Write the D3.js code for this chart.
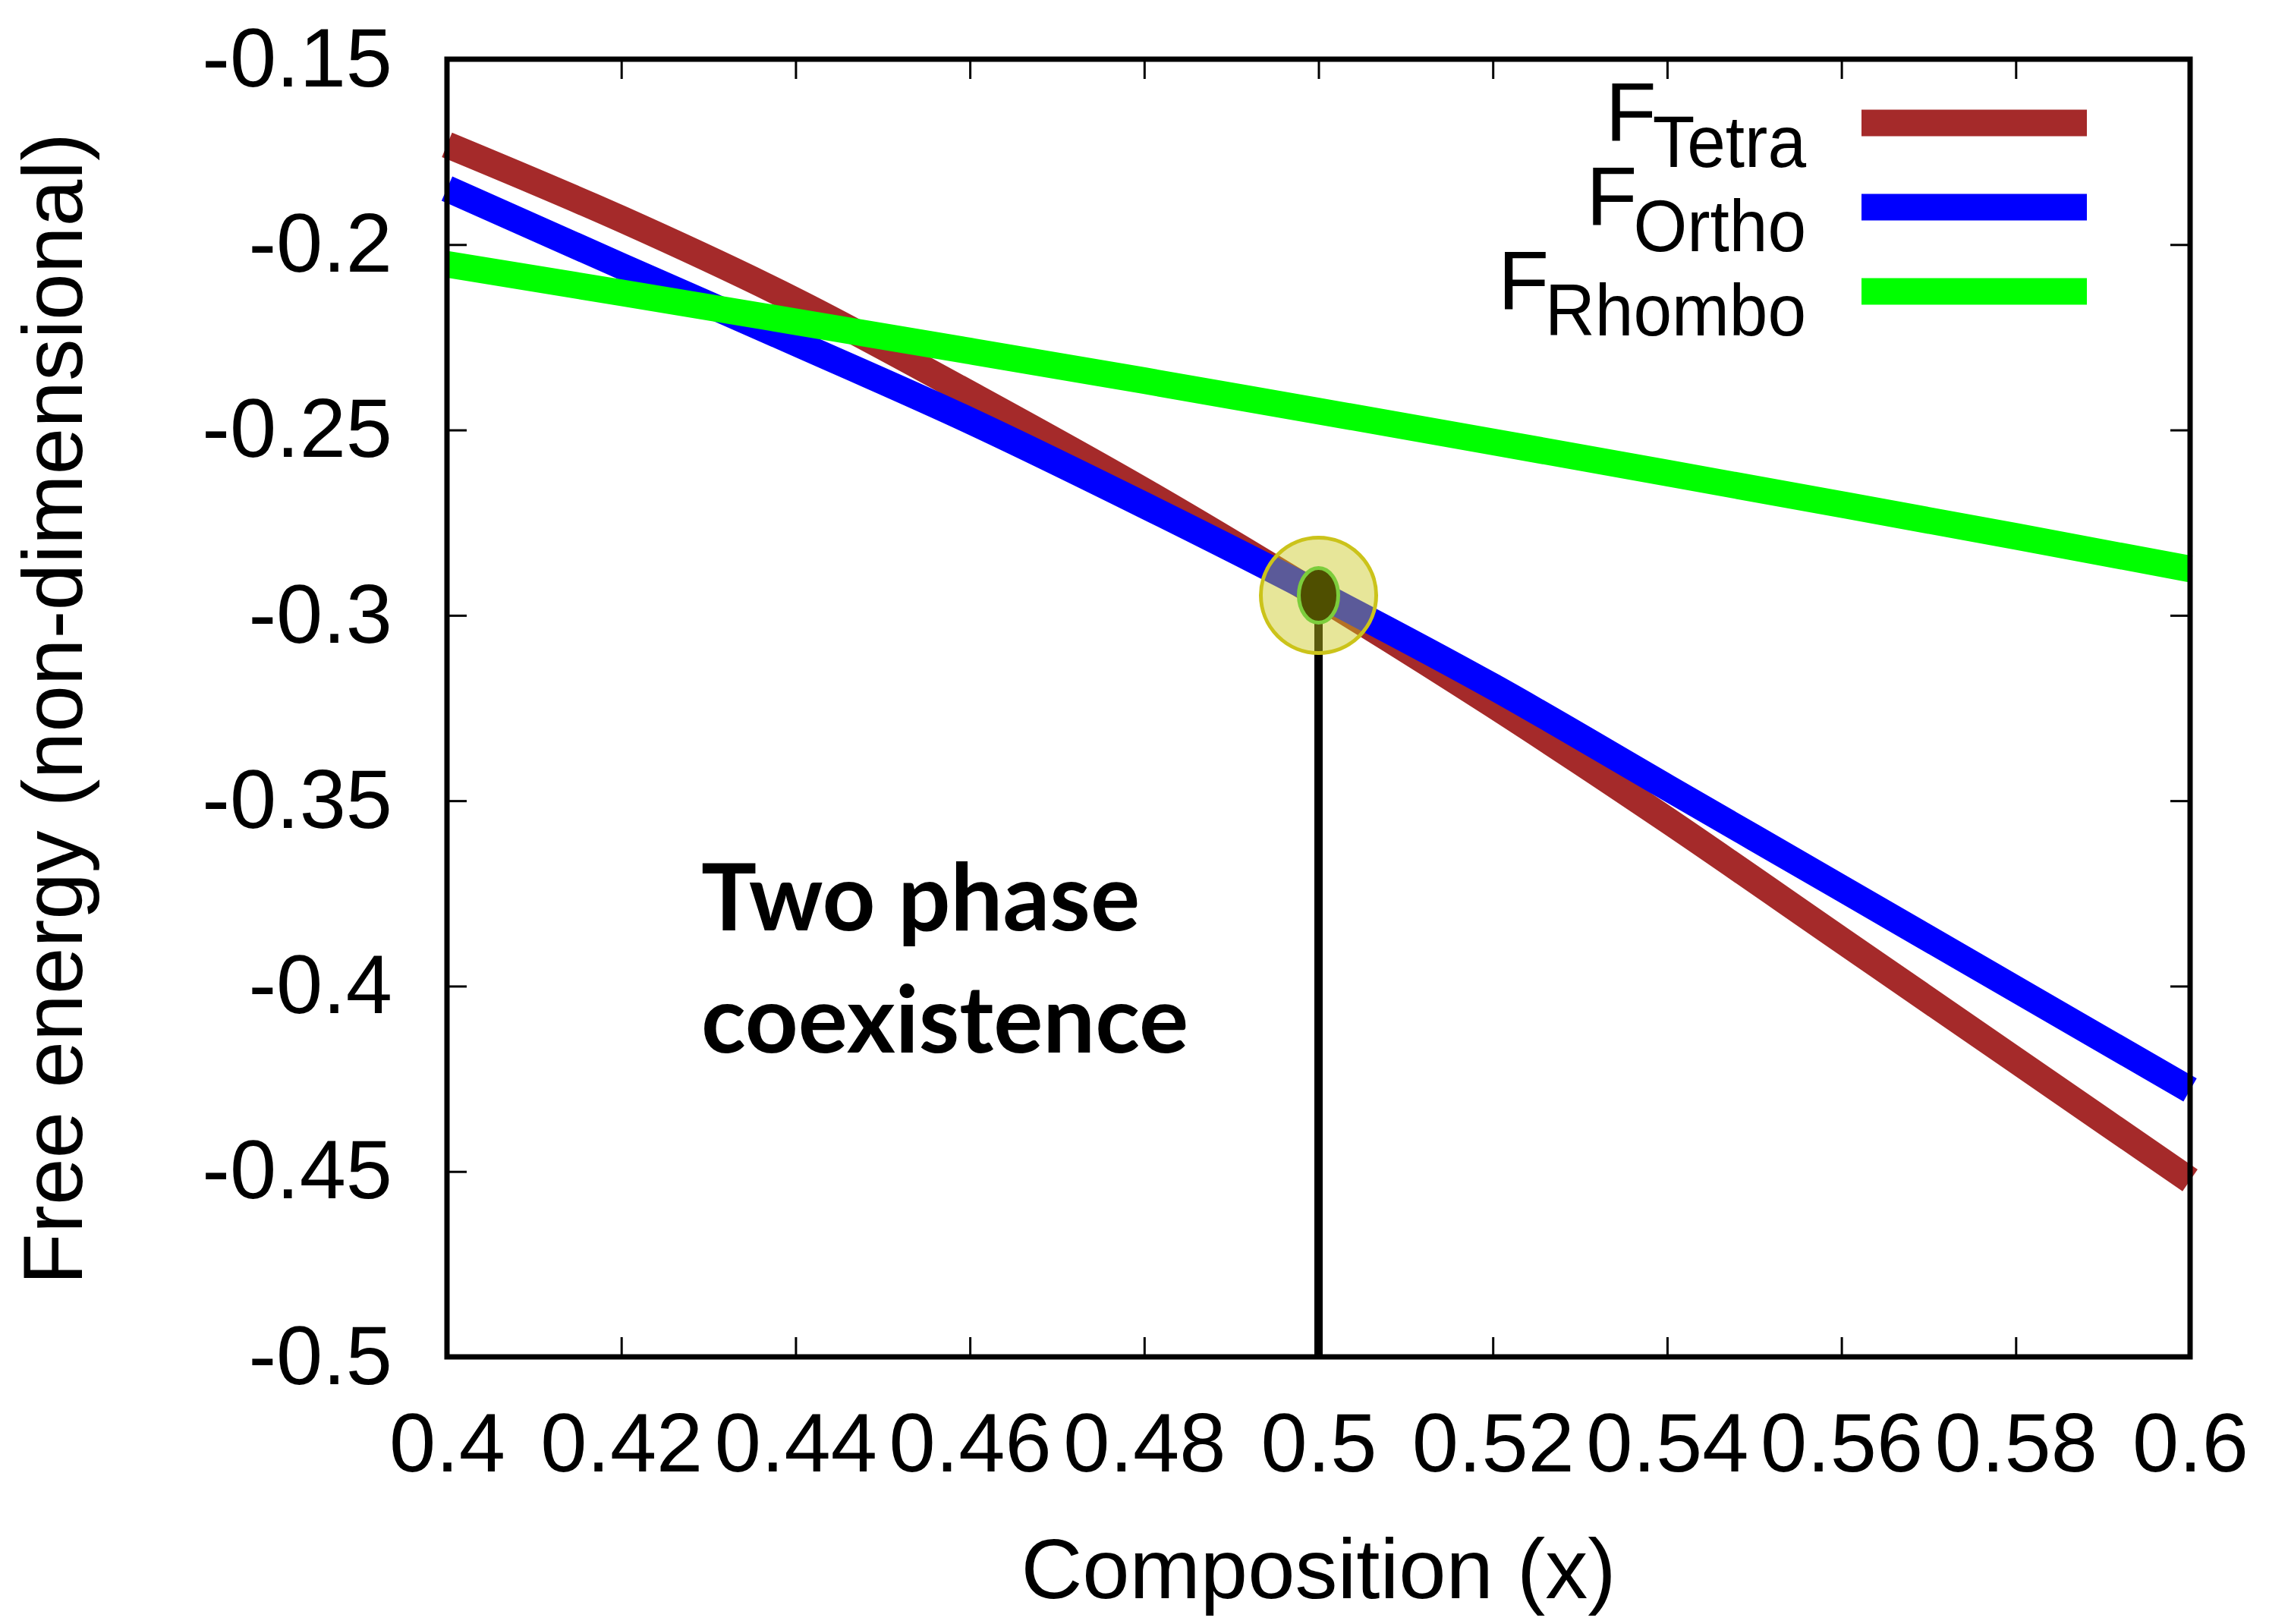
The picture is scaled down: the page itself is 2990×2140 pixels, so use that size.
<!DOCTYPE html>
<html>
<head>
<meta charset="utf-8">
<script src="https://cdn.jsdelivr.net/npm/d3@7"></script>
<style>
  html, body { margin: 0; background: #fff; }
</style>
</head>
<body>
<div id="chart"></div>
<script>
// ---- data ----
const composition = [0.40, 0.42, 0.44, 0.46, 0.48, 0.50, 0.52, 0.54, 0.56, 0.58, 0.60];
const fTetra  = [-0.1731, -0.1931, -0.2152, -0.2403, -0.2665, -0.2946, -0.3241, -0.3552, -0.3876, -0.4200, -0.4524];
const fOrtho  = [-0.1849, -0.2058, -0.2265, -0.2475, -0.2703, -0.2941, -0.3192, -0.3464, -0.3736, -0.4008, -0.4280];
const fRhombo = [-0.2053, -0.2130, -0.2208, -0.2287, -0.2367, -0.2449, -0.2532, -0.2616, -0.2701, -0.2787, -0.2875];

const seriesNames = ['Tetra', 'Ortho', 'Rhombo'];
const seriesColors = ['#a52a2a', '#0000ff', '#00ff00'];

const xTickValues = [0.40, 0.42, 0.44, 0.46, 0.48, 0.50, 0.52, 0.54, 0.56, 0.58, 0.60];
const xTickLabels = ['0.4', '0.42', '0.44', '0.46', '0.48', '0.5', '0.52', '0.54', '0.56', '0.58', '0.6'];
const yTickValues = [-0.15, -0.2, -0.25, -0.3, -0.35, -0.4, -0.45, -0.5];
const yTickLabels = ['-0.15', '-0.2', '-0.25', '-0.3', '-0.35', '-0.4', '-0.45', '-0.5'];

// coexistence point (crossing of tetra / ortho)
const coexistX = 0.5;
const coexistF = -0.2946;
const noteLines = ['Two phase', 'coexistence'];

// ---- layout ----
const W = 2990, H = 2140;
const M = { left: 589, right: W - 2886, top: 78, bottom: H - 1788 };
const FONT = '"Liberation Sans", Arial, Helvetica, sans-serif';
const TICK = 26;
const LINE_W = 35;

const svg = d3.select('#chart').append('svg')
  .attr('width', W).attr('height', H)
  .attr('viewBox', `0 0 ${W} ${H}`);

const x = d3.scaleLinear().domain([0.4, 0.6]).range([M.left, W - M.right]);
const y = d3.scaleLinear().domain([-0.5, -0.15]).range([H - M.bottom, M.top]);

const xFmt = (d) => xTickLabels[xTickValues.indexOf(d)];
const yFmt = (d) => yTickLabels[yTickValues.indexOf(d)];

function styleAxis(g, withText) {
  g.select('.domain').remove();
  g.selectAll('.tick line').attr('stroke', '#000').attr('stroke-width', 3);
  if (withText) {
    g.selectAll('.tick text')
      .attr('fill', '#000')
      .attr('font-family', FONT)
      .attr('font-size', 110);
  }
}

// axes: ticks inward on all four sides, labels on bottom/left only
svg.append('g')
  .attr('transform', `translate(0,${H - M.bottom})`)
  .call(d3.axisBottom(x).tickValues(xTickValues).tickFormat(xFmt).tickSize(-TICK).tickPadding(73))
  .call(g => styleAxis(g, true));

svg.append('g')
  .attr('transform', `translate(0,${M.top})`)
  .call(d3.axisTop(x).tickValues(xTickValues).tickFormat('').tickSize(-TICK))
  .call(g => styleAxis(g, false));

svg.append('g')
  .attr('transform', `translate(${M.left},0)`)
  .call(d3.axisLeft(y).tickValues(yTickValues).tickFormat(yFmt).tickSize(-TICK).tickPadding(72))
  .call(g => styleAxis(g, true));

svg.append('g')
  .attr('transform', `translate(${W - M.right},0)`)
  .call(d3.axisRight(y).tickValues(yTickValues).tickFormat('').tickSize(-TICK))
  .call(g => styleAxis(g, false));

// curves (drawn in plot order: tetra, ortho, rhombo)
const series = [fTetra, fOrtho, fRhombo];
const line = d3.line()
  .x((d, i) => x(composition[i]))
  .y(d => y(d))
  .curve(d3.curveMonotoneX);

series.forEach((vals, k) => {
  svg.append('path')
    .datum(vals)
    .attr('d', line)
    .attr('fill', 'none')
    .attr('stroke', seriesColors[k])
    .attr('stroke-width', LINE_W)
    .attr('stroke-linecap', 'butt');
});

// frame
svg.append('rect')
  .attr('x', M.left).attr('y', M.top)
  .attr('width', W - M.left - M.right)
  .attr('height', H - M.top - M.bottom)
  .attr('fill', 'none')
  .attr('stroke', '#000')
  .attr('stroke-width', 7);

// coexistence marker
svg.append('line')
  .attr('x1', x(coexistX)).attr('x2', x(coexistX))
  .attr('y1', y(coexistF)).attr('y2', y(-0.5))
  .attr('stroke', '#000')
  .attr('stroke-width', 11);

svg.append('circle')
  .attr('cx', x(coexistX)).attr('cy', y(coexistF))
  .attr('r', 76)
  .attr('fill', 'rgb(202,200,28)')
  .attr('fill-opacity', 0.45)
  .attr('stroke', '#cbc31a')
  .attr('stroke-width', 5);

svg.append('ellipse')
  .attr('cx', x(coexistX)).attr('cy', y(coexistF))
  .attr('rx', 26).attr('ry', 36)
  .attr('fill', '#4f4f00')
  .attr('stroke', '#7ccd3c')
  .attr('stroke-width', 5);

// annotation
const note = svg.append('text')
  .attr('font-family', 'Lato, "Open Sans", sans-serif')
  .attr('font-weight', 700)
  .attr('font-size', 122)
  .attr('fill', '#000');
noteLines.forEach((t, i) => {
  note.append('tspan')
    .attr('x', 924)
    .attr('y', 1226 + i * 161)
    .text(t);
});

// legend: F with a taller, narrow subscript, right aligned
const legend = svg.append('g');
const LEG_RIGHT = 2380;
seriesNames.forEach((name, i) => {
  const base = 186 + i * 111;

  const sub = legend.append('text')
    .attr('text-anchor', 'end')
    .attr('transform', `translate(${LEG_RIGHT},${base + 34}) scale(1,1.06)`)
    .attr('font-family', FONT)
    .attr('font-size', 91)
    .attr('fill', '#000')
    .text(name);
  const subW = sub.node().getComputedTextLength();

  legend.append('text')
    .attr('x', LEG_RIGHT - subW + 5).attr('y', base)
    .attr('text-anchor', 'end')
    .attr('font-family', FONT)
    .attr('font-size', 110)
    .attr('fill', '#000')
    .text('F');

  legend.append('line')
    .attr('x1', 2453).attr('x2', 2750)
    .attr('y1', base - 24).attr('y2', base - 24)
    .attr('stroke', seriesColors[i])
    .attr('stroke-width', LINE_W);
});

// axis titles
svg.append('text')
  .attr('x', (M.left + W - M.right) / 2)
  .attr('y', 2106)
  .attr('text-anchor', 'middle')
  .attr('font-family', FONT)
  .attr('font-size', 112)
  .attr('fill', '#000')
  .text('Composition (x)');

svg.append('text')
  .attr('transform', 'translate(108,934) rotate(-90)')
  .attr('text-anchor', 'middle')
  .attr('font-family', FONT)
  .attr('font-size', 111)
  .attr('fill', '#000')
  .text('Free energy (non-dimensional)');
</script>
</body>
</html>
